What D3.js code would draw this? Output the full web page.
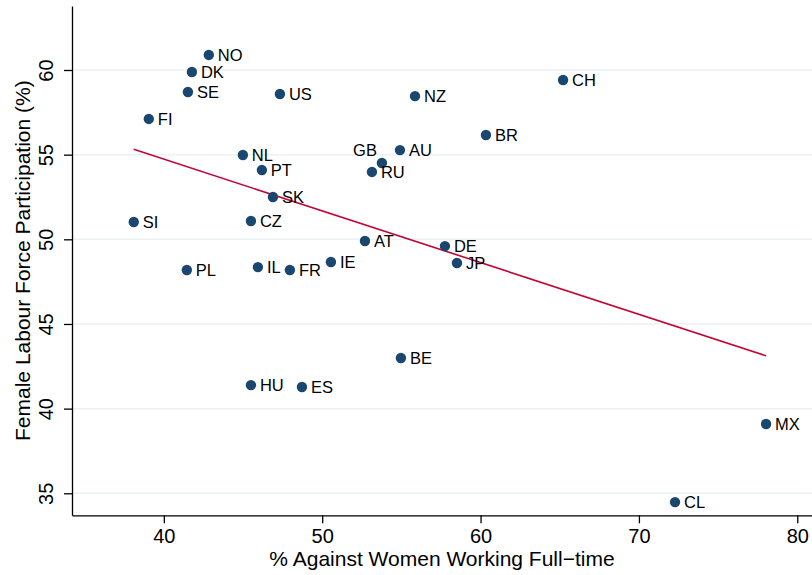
<!DOCTYPE html>
<html><head><meta charset="utf-8">
<script src="https://cdn.jsdelivr.net/npm/d3@7"></script>
<style>body{margin:0;background:#fff}svg{display:block}text{font-family:"Liberation Sans",Arial,Helvetica,sans-serif}</style>
</head><body>
<script>
const countries = ["NO","DK","SE","US","FI","NL","PT","SK","SI","CZ","PL","IL","FR","IE","AT","DE","JP","BE","HU","ES","MX","CL","CH","NZ","BR","AU","GB","RU"];
const againstFullTime = [42.84,41.77,41.52,47.33,39.05,44.99,46.19,46.89,38.10,45.50,41.45,45.94,47.96,50.55,52.70,57.75,58.51,54.97,45.50,48.72,78.03,72.28,65.21,55.86,60.34,54.91,53.77,53.14];
const femaleLFP = [60.89,59.88,58.70,58.58,57.11,54.98,54.09,52.50,51.02,51.08,48.19,48.36,48.19,48.66,49.90,49.60,48.60,42.99,41.39,41.28,39.09,34.48,59.41,58.46,56.16,55.27,54.51,53.98];
const labelPos = ["r","r","r","r","r","r","r","r","r","r","r","r","r","r","r","r","r","r","r","r","r","r","r","r","r","r","ul","r"];
const xTicks = [40,50,60,70,80];
const yTicks = [35,40,45,50,55,60];
const xTitle = "% Against Women Working Full\u2212time";
const yTitle = "Female Labour Force Participation (%)";

const W = 812, H = 575;
const svg = d3.select("body").append("svg").attr("width", W).attr("height", H);
const x = d3.scaleLinear().domain([34.2, 80.93]).range([72, 812]);
const y = d3.scaleLinear().domain([33.7, 63.78]).range([515.3, 6]);

// gridlines
svg.append("g").selectAll("line").data(yTicks).join("line")
  .attr("x1", 72).attr("x2", 812).attr("y1", d => y(d)).attr("y2", d => y(d))
  .attr("stroke", "#eaf2f3").attr("stroke-width", 1.5);

// axes
const ax = svg.append("g").attr("transform", `translate(0,${y.range()[0]})`)
  .call(d3.axisBottom(x).tickValues(xTicks).tickSize(8).tickSizeOuter(0));
ax.select(".domain").attr("stroke", "#000").attr("stroke-width", 1.3);
ax.selectAll(".tick line").attr("stroke", "#000").attr("stroke-width", 1.3);
ax.selectAll(".tick text").attr("y", 28).attr("dy", 0).attr("font-size", 20).attr("fill", "#000");

const ay = svg.append("g").attr("transform", `translate(72,0)`)
  .call(d3.axisLeft(y).tickValues(yTicks).tickSize(8).tickSizeOuter(0));
ay.select(".domain").attr("stroke", "#000").attr("stroke-width", 1.3);
ay.selectAll(".tick line").attr("stroke", "#000").attr("stroke-width", 1.3);
ay.selectAll(".tick text").attr("transform", "rotate(-90)").attr("x", 0).attr("y", -19)
  .attr("dy", 0).attr("text-anchor", "middle").attr("font-size", 20).attr("fill", "#000");

// titles
svg.append("text").attr("x", 442).attr("y", 566).attr("text-anchor", "middle")
  .attr("font-size", 21).text(xTitle);
svg.append("text").attr("transform", `translate(30,${(6 + 515.3) / 2}) rotate(-90)`)
  .attr("text-anchor", "middle").attr("font-size", 21).text(yTitle);

// linear fit
const n = countries.length;
const mx = d3.mean(againstFullTime), my = d3.mean(femaleLFP);
let sxy = 0, sxx = 0;
for (let i = 0; i < n; i++) { sxy += (againstFullTime[i] - mx) * (femaleLFP[i] - my); sxx += (againstFullTime[i] - mx) ** 2; }
const b = sxy / sxx, a = my - b * mx;
const xe = d3.extent(againstFullTime);
svg.append("line").attr("x1", x(xe[0])).attr("y1", y(a + b * xe[0]))
  .attr("x2", x(xe[1])).attr("y2", y(a + b * xe[1]))
  .attr("stroke", "#c10534").attr("stroke-width", 1.6);

// points
const pts = countries.map((c, i) => ({c, x: againstFullTime[i], y: femaleLFP[i], p: labelPos[i]}));
svg.append("g").selectAll("circle").data(pts).join("circle")
  .attr("cx", d => x(d.x)).attr("cy", d => y(d.y)).attr("r", 5.2).attr("fill", "#1a476f");
svg.append("g").selectAll("text").data(pts).join("text")
  .attr("x", d => d.p === "ul" ? x(d.x) - 5 : x(d.x) + 9)
  .attr("y", d => d.p === "ul" ? y(d.y) - 7 : y(d.y) + 6)
  .attr("text-anchor", d => d.p === "ul" ? "end" : "start")
  .attr("font-size", 16.5).attr("fill", "#000").text(d => d.c);
</script>
</body></html>
